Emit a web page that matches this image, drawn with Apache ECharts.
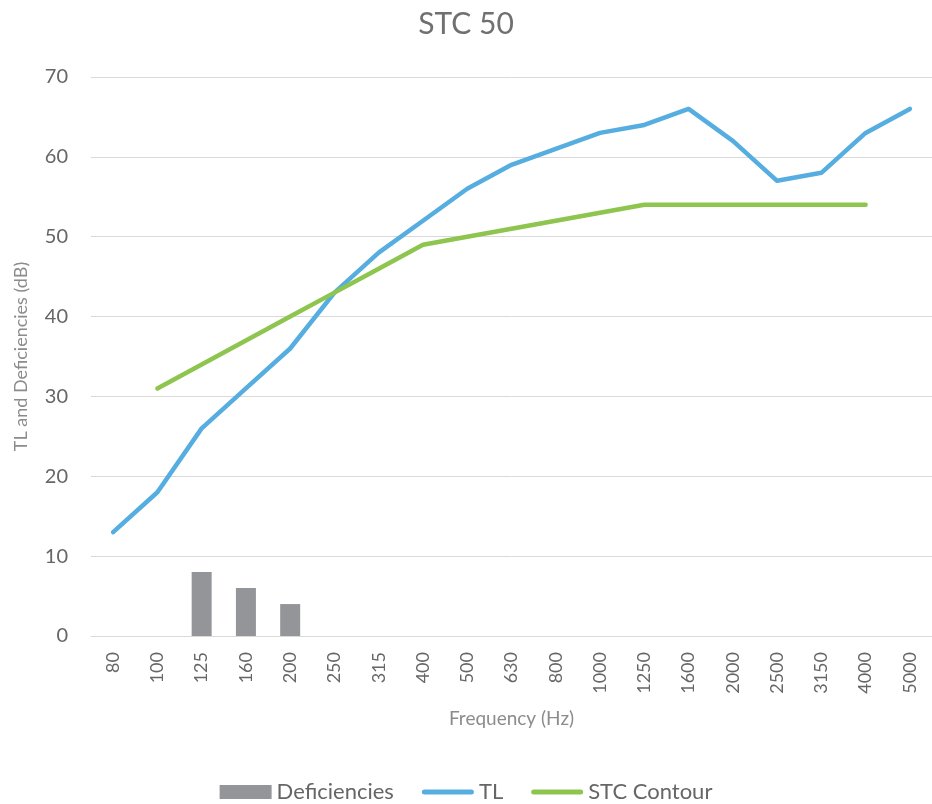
<!DOCTYPE html>
<html>
<head>
<meta charset="utf-8">
<script src="https://cdn.jsdelivr.net/npm/echarts@6/dist/echarts.min.js"></script>
<style>
  html, body { margin: 0; padding: 0; background: #fff; }
  #chart { width: 932px; height: 804px; }
</style>
</head>
<body>
<div id="chart"></div>
<script>
// frequencies (Hz) and values
var frequencies = ['80', '100', '125', '160', '200', '250', '315', '400', '500', '630',
                   '800', '1000', '1250', '1600', '2000', '2500', '3150', '4000', '5000'];
var deficiencies = [null, null, 8, 6, 4, null, null, null, null, null,
                    null, null, null, null, null, null, null, null, null];
var tl = [13, 18, 26, 31, 36, 43, 48, 52, 56, 59, 61, 63, 64, 66, 62, 57, 58, 63, 66];
var stcContour = [null, 31, 34, 37, 40, 43, 46, 49, 50, 51, 52, 53, 54, 54, 54, 54, 54, 54, null];

var font = 'Lato, "Open Sans", sans-serif';
// legend icons: full box for the bars, thin rounded stroke for the lines
var barIcon = 'path://M0,0H52V14H0Z';
var lineIcon = 'path://M0,0M52,14M2.5,4.5H49.5A2.5,2.5 0 0 1 49.5,9.5H2.5A2.5,2.5 0 0 1 2.5,4.5Z';

var myChart = echarts.init(document.getElementById('chart'));
var option = {
    animation: false,
    title: {
        text: 'STC 50',
        left: 'center',
        top: 4,
        textStyle: { fontFamily: font, fontSize: 30, fontWeight: 'normal', color: '#707070' }
    },
    legend: {
        top: 776,
        left: 'center',
        itemWidth: 52,
        itemHeight: 14,
        itemGap: 28,
        textStyle: { fontFamily: font, fontSize: 22, color: '#666666' },
        data: [
            { name: 'Deficiencies', icon: barIcon },
            { name: 'TL', icon: lineIcon },
            { name: 'STC Contour', icon: lineIcon }
        ]
    },
    grid: {
        left: 91,
        right: 0,
        top: 77,
        bottom: 168
    },
    xAxis: {
        type: 'category',
        data: frequencies,
        name: 'Frequency (Hz)',
        nameLocation: 'middle',
        nameGap: 73,
        nameTextStyle: { fontFamily: font, fontSize: 19, color: '#8c8c8c' },
        axisLine: { show: true, lineStyle: { color: '#d9d9d9', width: 1 } },
        axisTick: { show: false },
        axisLabel: {
            rotate: 90,
            margin: 16,
            fontFamily: font,
            fontSize: 18,
            color: '#666666'
        }
    },
    yAxis: {
        type: 'value',
        min: 0,
        max: 70,
        interval: 10,
        name: 'TL and Deficiencies (dB)',
        nameLocation: 'middle',
        nameGap: 61,
        nameTextStyle: { fontFamily: font, fontSize: 18, color: '#8c8c8c' },
        axisLine: { show: false },
        axisTick: { show: false },
        axisLabel: { margin: 23, fontFamily: font, fontSize: 20, color: '#666666' },
        splitLine: { lineStyle: { color: '#d9d9d9', width: 1 } }
    },
    series: [
        {
            name: 'Deficiencies',
            type: 'bar',
            data: deficiencies,
            barWidth: 20,
            itemStyle: { color: '#939598' }
        },
        {
            name: 'TL',
            type: 'line',
            data: tl,
            symbol: 'none',
            lineStyle: { color: '#56ade0', width: 4.5, cap: 'round', join: 'round' },
            itemStyle: { color: '#56ade0' }
        },
        {
            name: 'STC Contour',
            type: 'line',
            data: stcContour,
            symbol: 'none',
            lineStyle: { color: '#8dc54f', width: 4.5, cap: 'round', join: 'round' },
            itemStyle: { color: '#8dc54f' }
        }
    ]
};
myChart.setOption(option);
</script>
</body>
</html>
